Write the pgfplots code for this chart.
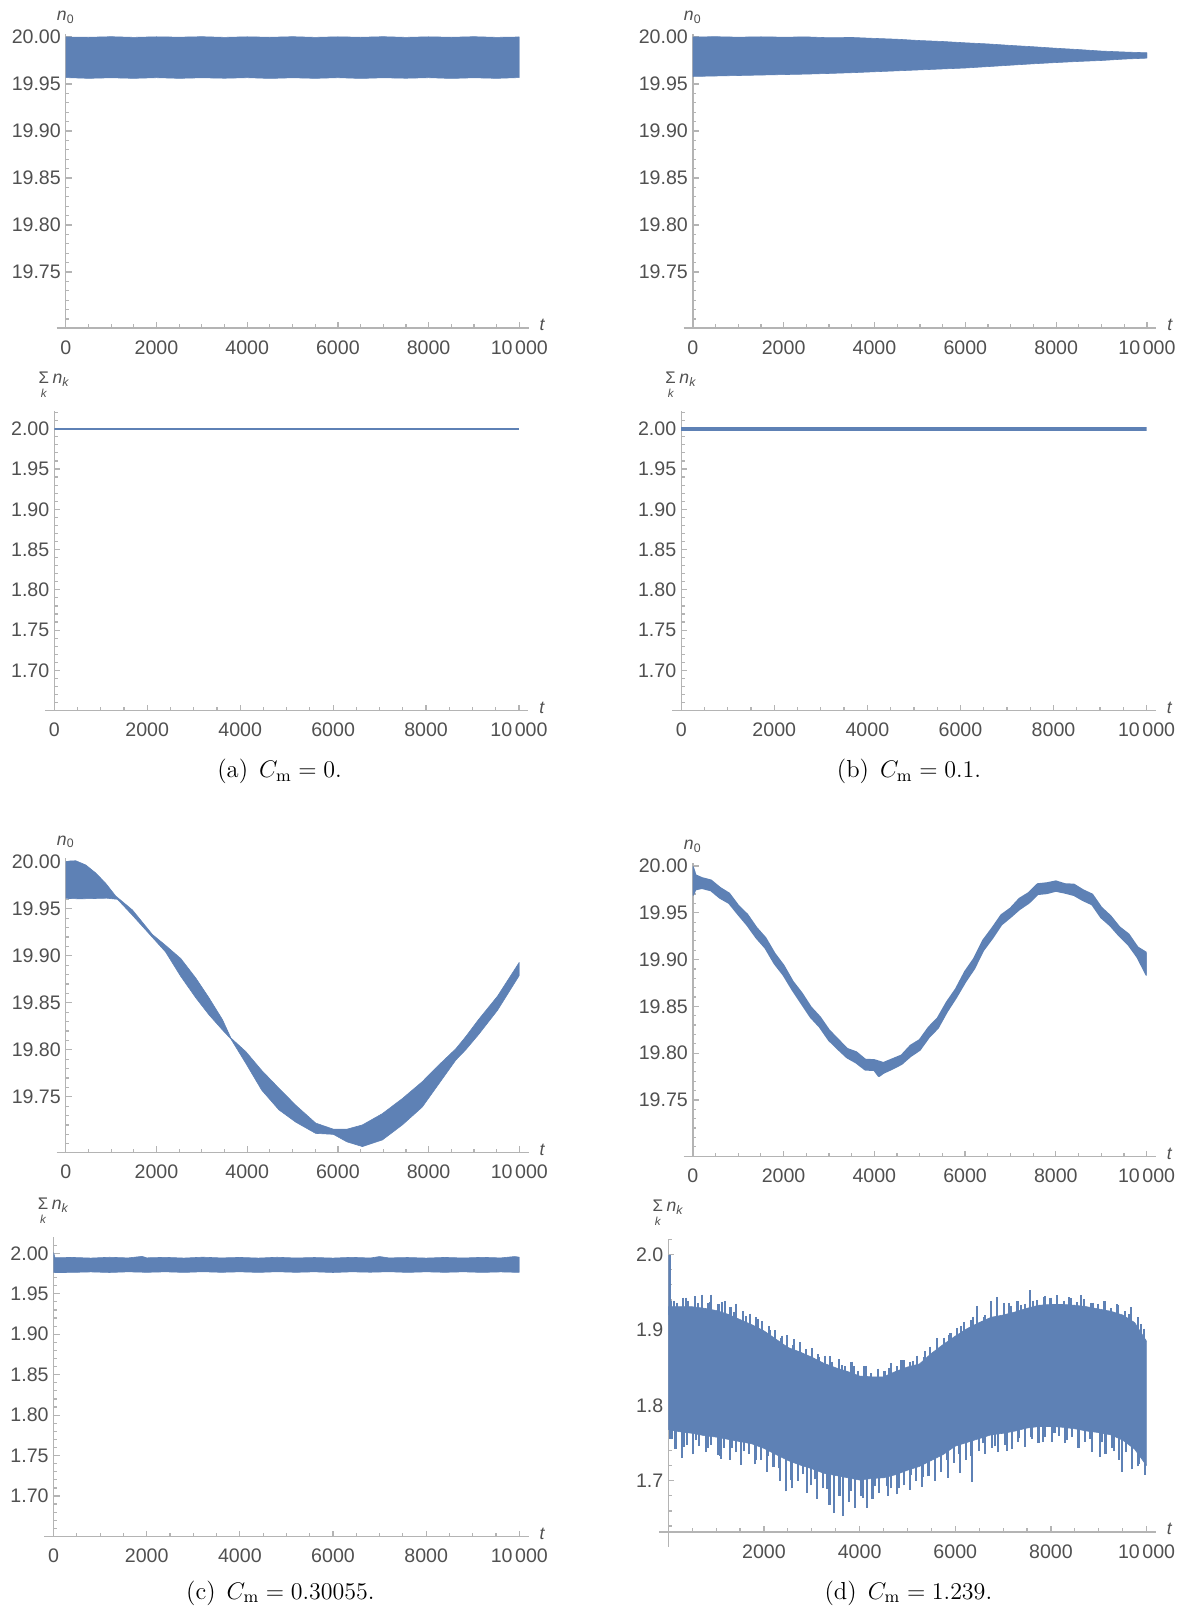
\documentclass[border=0pt]{standalone}
\usepackage{pgfplots}
\pgfplotsset{compat=1.18}
\usepackage{fontspec}
\newfontfamily\mma{Liberation Sans}
\definecolor{mblue}{HTML}{5E81B5}
\definecolor{axgray}{HTML}{B4B4B4}
\definecolor{labgray}{HTML}{505050}
\newcommand\ticklabfont{\mma\fontsize{9.8}{10}\selectfont}
\newcommand\axlabfont{\mma\fontsize{8.8}{9}\selectfont}
\newcommand\capfont{\fontsize{12.3}{14}\selectfont}
\newcommand\sumk{{\setbox0\hbox{\fontsize{8.4}{9}\selectfont Σ}\copy0\kern-\wd0\hbox to \wd0{\hss\raisebox{-7pt}{\fontsize{5.8}{6}\selectfont\itshape k}\hss}}}
\pgfplotsset{
  mma/.style={
    scale only axis, anchor=south west,
    axis x line=bottom, axis y line=left,
    every outer x axis line/.append style={-},
    every outer y axis line/.append style={-},
    axis line style={-, draw=axgray, line width=0.7pt},
    x axis line style={shorten <=-4.6pt, shorten >=-4.6pt},
    tick align=inside,
    major tick length=3pt, minor tick length=1.8pt,
    tick style={draw=axgray, line width=0.6pt},
    scaled x ticks=false, scaled y ticks=false,
    xmin=0, xmax=10000,
    xtick={0,2000,4000,6000,8000,10000},
    xticklabels={0,2000,4000,6000,8000,10\kern0.13em000},
    minor xtick={500,1000,...,9500},
    xticklabel style={font=\ticklabfont, text=labgray, inner sep=0pt, anchor=north, yshift=-6pt},
    yticklabel style={font=\ticklabfont, text=labgray, inner sep=0pt, anchor=east, xshift=-2.3pt},
    xlabel={\textit{t}},
    every axis x label/.style={at={(rel axis cs:1,0)}, anchor=base west, xshift=6.6pt, yshift=-1.5pt, font=\axlabfont, text=labgray},
    every axis y label/.style={at={(rel axis cs:0,1)}, anchor=base, font=\axlabfont, text=labgray},
  },
  ntop/.style={mma, ymax=20.0035,
    ytick={19.75,19.80,19.85,19.90,19.95,20.00},
    yticklabels={19.75,19.80,19.85,19.90,19.95,20.00},
    minor ytick={19.70,19.71,...,20.00},
    ylabel={\textit{n}\textsubscript{0}},
    ylabel style={yshift=6.5pt}},
  nbot/.style={mma,
    ytick={1.70,1.75,1.80,1.85,1.90,1.95,2.00},
    yticklabels={1.70,1.75,1.80,1.85,1.90,1.95,2.00},
    minor ytick={1.66,1.67,...,2.02},
    ylabel={\sumk\kern1.8pt\textit{n}\textsubscript{\textit{k}}},
    ylabel style={yshift=13.7pt}},
  band/.style={fill=mblue, draw=mblue, line width=0.3pt, line join=round},
  spikes/.style={draw=none, mark=none, forget plot},
  upspk/.style={spikes, error bars/.cd, y dir=minus, y fixed=0.08, error mark=none,
    error bar style={draw=mblue, line width=1.05pt}},
  dnspk/.style={spikes, error bars/.cd, y dir=plus, y fixed=0.08, error mark=none,
    error bar style={draw=mblue, line width=1.05pt}},
}
\begin{document}
\begin{tikzpicture}
\useasboundingbox (0,0) rectangle (593.5pt,804pt);

% ---------- (a) top
\begin{axis}[ntop, at={(32.9pt,640pt)}, width=226.75pt, height=147.15pt, ymin=19.6904]
\addplot[band] coordinates {(0,20.0000) (500,19.9997) (1000,20.0003) (1500,19.9996) (2000,20.0002) (2500,19.9998) (3000,20.0003) (3500,19.9996) (4000,20.0002) (4500,19.9997) (5000,20.0003) (5500,19.9996) (6000,20.0002) (6500,19.9997) (7000,20.0003) (7500,19.9996) (8000,20.0002) (8500,19.9997) (9000,20.0003) (9500,19.9996) (10000,20.0000)
(10000,19.9568) (9500,19.9560) (9000,19.9566) (8500,19.9559) (8000,19.9567) (7500,19.9561) (7000,19.9566) (6500,19.9559) (6000,19.9567) (5500,19.9560) (5000,19.9566) (4500,19.9559) (4000,19.9567) (3500,19.9561) (3000,19.9566) (2500,19.9560) (2000,19.9567) (1500,19.9560) (1000,19.9566) (500,19.9560) (0,19.9568)} -- cycle;
\end{axis}

% ---------- (a) bottom
\begin{axis}[nbot, at={(27.15pt,448.65pt)}, width=232.35pt, height=149.65pt, ymin=1.650, ymax=2.0215]
\addplot[mblue, line width=0.8pt] coordinates {(0,2.000) (10000,2.000)};
\end{axis}
\node[anchor=base, font=\capfont] at (139.8pt,415.25pt) {(a)\hspace{0.45em}$C_{\mathrm{m}}=0$.};

% ---------- (b) top
\begin{axis}[ntop, at={(346.4pt,640pt)}, width=227.1pt, height=147.15pt, ymin=19.6904]
\addplot[band] coordinates {(0,20.0000) (500,20.0003) (1000,19.9998) (1500,20.0002) (2000,19.9998) (2500,20.0001) (3000,19.9992) (3500,19.9995) (4000,19.9985) (4500,19.9976) (5000,19.9962) (5500,19.9952) (6000,19.9938) (6500,19.9926) (7000,19.9910) (7500,19.9896) (8000,19.9880) (8500,19.9866) (9000,19.9850) (9500,19.9840) (10000,19.9832)
(10000,19.9775) (9500,19.9765) (9000,19.9750) (8500,19.9740) (8000,19.9728) (7500,19.9715) (7000,19.9700) (6500,19.9685) (6000,19.9670) (5500,19.9660) (5000,19.9650) (4500,19.9640) (4000,19.9630) (3500,19.9620) (3000,19.9612) (2500,19.9605) (2000,19.9600) (1500,19.9595) (1000,19.9590) (500,19.9585) (0,19.9580)} -- cycle;
\end{axis}

% ---------- (b) bottom
\begin{axis}[nbot, at={(340.6pt,448.65pt)}, width=232.7pt, height=149.65pt, ymin=1.650, ymax=2.0215]
\addplot[mblue, line width=1.8pt] coordinates {(0,2.000) (10000,2.000)};
\end{axis}
\node[anchor=base, font=\capfont] at (454.5pt,415.25pt) {(b)\hspace{0.45em}$C_{\mathrm{m}}=0.1$.};

% ---------- (c) top
\begin{axis}[ntop, at={(32.9pt,227.85pt)}, width=226.75pt, height=146.95pt, ymin=19.6909]
\addplot[band] coordinates {(0,20.000) (100,20.0008) (220,20.001) (440,19.9965) (660,19.988) (880,19.977) (1100,19.9635) (1470,19.9486) (1910,19.9225) (2200,19.911) (2535,19.897) (2870,19.876) (3160,19.855) (3455,19.832) (3640,19.8125) (3970,19.798) (4320,19.778) (4700,19.759) (5070,19.741) (5510,19.722) (5900,19.7155) (6200,19.7155) (6540,19.720) (6980,19.732) (7420,19.748) (7860,19.766) (8230,19.784) (8600,19.801) (8820,19.814) (9100,19.832) (9520,19.857) (10000,19.893)
(10000,19.879) (9520,19.842) (9100,19.816) (8820,19.800) (8600,19.789) (8230,19.764) (7860,19.739) (7420,19.720) (6980,19.704) (6540,19.697) (6200,19.702) (5900,19.710) (5510,19.711) (5070,19.723) (4700,19.736) (4320,19.757) (3970,19.7855) (3640,19.8115) (3455,19.821) (3160,19.837) (2870,19.855) (2535,19.878) (2200,19.904) (1910,19.9195) (1470,19.943) (1140,19.960) (900,19.9612) (600,19.9608) (300,19.9605) (0,19.961)} -- cycle;
\end{axis}

% ---------- (c) bottom
\begin{axis}[nbot, at={(26.8pt,35.65pt)}, width=232.85pt, height=149.7pt, ymin=1.6497, ymax=2.0198]
\addplot[band] coordinates {(0,2.0010) (30,1.9945) (400,1.9949) (800,1.9941) (1200,1.9951) (1600,1.9943) (1900,1.9962) (2000,1.9944) (2400,1.9950) (2800,1.9941) (3200,1.9952) (3600,1.9943) (4000,1.9949) (4400,1.9941) (4800,1.9951) (5200,1.9942) (5600,1.9948) (6000,1.9941) (6400,1.9950) (6800,1.9942) (7000,1.9960) (7200,1.9943) (7600,1.9948) (8000,1.9941) (8400,1.9949) (8800,1.9942) (9200,1.9950) (9600,1.9943) (9900,1.9960) (10000,1.9952)
(10000,1.9764) (9600,1.9770) (9200,1.9764) (8800,1.9771) (8400,1.9765) (8000,1.9771) (7600,1.9764) (7200,1.9772) (6800,1.9766) (6400,1.9771) (6000,1.9763) (5600,1.9771) (5200,1.9765) (4800,1.9772) (4400,1.9764) (4000,1.9771) (3600,1.9765) (3200,1.9772) (2800,1.9764) (2400,1.9771) (2000,1.9765) (1600,1.9771) (1200,1.9763) (800,1.9770) (400,1.9764) (0,1.9762)} -- cycle;
\end{axis}
\node[anchor=base, font=\capfont] at (140.2pt,4.5pt) {(c)\hspace{0.45em}$C_{\mathrm{m}}=0.30055$.};

% ---------- (d) top
\begin{axis}[ntop, at={(346.4pt,225.65pt)}, width=226.9pt, height=147pt, ymin=19.6894]
\addplot[band, line width=1.0pt] coordinates {(0,19.999) (60,19.990) (200,19.987) (400,19.9845) (600,19.9765) (800,19.9705) (1000,19.9575) (1200,19.948) (1400,19.934) (1600,19.923) (1800,19.9065) (2000,19.8935) (2200,19.8765) (2400,19.864) (2600,19.849) (2800,19.8385) (3000,19.8245) (3200,19.8145) (3400,19.8045) (3600,19.801) (3800,19.793) (4000,19.7925) (4200,19.7895) (4400,19.7935) (4600,19.7975) (4800,19.808) (5000,19.814) (5200,19.8275) (5400,19.8375) (5600,19.8545) (5800,19.8685) (6000,19.887) (6200,19.901) (6400,19.9205) (6600,19.9335) (6800,19.9475) (7000,19.9545) (7200,19.965) (7400,19.971) (7600,19.9805) (7800,19.9815) (8000,19.9835) (8200,19.9805) (8400,19.980) (8600,19.974) (8800,19.9695) (9000,19.9555) (9200,19.9465) (9400,19.9345) (9600,19.927) (9800,19.913) (10000,19.907)
(10000,19.8835) (9800,19.9025) (9600,19.916) (9400,19.9255) (9200,19.9365) (9000,19.945) (8800,19.959) (8600,19.9635) (8400,19.969) (8200,19.9715) (8000,19.9735) (7800,19.971) (7600,19.970) (7400,19.9605) (7200,19.954) (7000,19.9455) (6800,19.9375) (6600,19.923) (6400,19.910) (6200,19.8905) (6000,19.876) (5800,19.8595) (5600,19.8445) (5400,19.827) (5200,19.817) (5000,19.8035) (4800,19.797) (4600,19.7885) (4400,19.7835) (4200,19.779) (4100,19.7755) (4000,19.782) (3800,19.7825) (3600,19.790) (3400,19.7955) (3200,19.8045) (3000,19.814) (2800,19.828) (2600,19.8385) (2400,19.853) (2200,19.8675) (2000,19.8835) (1800,19.896) (1600,19.9125) (1400,19.9235) (1200,19.937) (1000,19.9485) (800,19.9605) (600,19.966) (400,19.974) (200,19.9765) (60,19.975) (0,19.969)} -- cycle;
\end{axis}

% ---------- (d) bottom
\begin{axis}[mma, at={(334.15pt,38pt)}, width=239.15pt, height=146.15pt, ymin=1.632, ymax=2.02,
    xtick={2000,4000,6000,8000,10000},
    xticklabels={2000,4000,6000,8000,10\kern0.13em000},
    ytick={1.7,1.8,1.9,2.0}, yticklabels={1.7,1.8,1.9,2.0},
    minor ytick={1.64,1.66,...,2.02},
    y axis line style={shorten <=-7.35pt},
    ylabel={\sumk\kern1.8pt\textit{n}\textsubscript{\textit{k}}},
    ylabel style={yshift=13.9pt}]
\addplot[band] coordinates {(0,1.931) (250,1.931) (500,1.931) (750,1.929) (1000,1.926) (1250,1.921) (1500,1.914) (1750,1.907) (2000,1.899) (2250,1.888) (2500,1.877) (2750,1.871) (3000,1.864) (3250,1.856) (3500,1.850) (3750,1.845) (4000,1.839) (4250,1.838) (4500,1.838) (4750,1.845) (5000,1.851) (5250,1.855) (5500,1.869) (5750,1.881) (6000,1.892) (6250,1.902) (6500,1.910) (6750,1.917) (7000,1.920) (7250,1.924) (7500,1.929) (7750,1.933) (8000,1.934) (8250,1.934) (8500,1.933) (8750,1.931) (9000,1.928) (9250,1.925) (9500,1.920) (9750,1.910) (10000,1.885)
(10000,1.720) (9750,1.742) (9500,1.754) (9250,1.761) (9000,1.764) (8750,1.766) (8500,1.769) (8250,1.771) (8000,1.772) (7750,1.772) (7500,1.770) (7250,1.766) (7000,1.763) (6750,1.761) (6500,1.756) (6250,1.751) (6000,1.746) (5750,1.735) (5500,1.727) (5250,1.719) (5000,1.714) (4750,1.708) (4500,1.704) (4250,1.703) (4000,1.701) (3750,1.704) (3500,1.707) (3250,1.710) (3000,1.716) (2750,1.721) (2500,1.727) (2250,1.735) (2000,1.743) (1750,1.749) (1500,1.752) (1250,1.755) (1000,1.758) (750,1.760) (500,1.763) (250,1.765) (0,1.768)} -- cycle;
% upper spikes
\addplot[upspk] coordinates {
(25,2.000) (60,1.938) (180,1.936) (310,1.943) (420,1.938) (560,1.945) (700,1.947) (830,1.936) (900,1.947) (1050,1.934) (1180,1.938) (1300,1.930) (1420,1.935) (1560,1.925) (1700,1.922) (1830,1.917) (1960,1.912) (2100,1.905) (2230,1.900) (2350,1.889) (2480,1.893) (2610,1.880) (2750,1.884) (2880,1.872) (3000,1.876) (3140,1.864) (3280,1.866) (3420,1.858) (3560,1.861) (3700,1.852) (3830,1.858) (3960,1.846) (4100,1.852) (4230,1.843) (4380,1.849) (4520,1.846) (4650,1.856) (4790,1.852) (4930,1.860) (5060,1.858) (5200,1.866) (5340,1.864) (5480,1.878) (5620,1.882) (5760,1.890) (5900,1.896) (6040,1.903) (6180,1.911) (6320,1.914) (6460,1.932) (6600,1.918) (6740,1.938) (6880,1.944) (7020,1.936) (7160,1.932) (7300,1.938) (7450,1.935) (7560,1.953) (7700,1.940) (7850,1.944) (7990,1.943) (8130,1.946) (8270,1.939) (8410,1.942) (8550,1.937) (8700,1.941) (8840,1.936) (8980,1.935) (9120,1.938) (9260,1.929) (9400,1.933) (9540,1.925) (9680,1.930) (9820,1.917) (9950,1.902)};
\addplot[upspk] coordinates {
(125,1.939) (375,1.943) (625,1.936) (875,1.9375) (1125,1.9375) (1375,1.9245) (1625,1.9185) (1875,1.915) (2125,1.8995) (2375,1.8925) (2625,1.888) (2875,1.8745) (3125,1.868) (3375,1.865) (3625,1.8535) (3875,1.852) (4125,1.8525) (4375,1.845) (4625,1.8495) (4875,1.860) (5125,1.859) (5375,1.872) (5625,1.889) (5875,1.8935) (6125,1.905) (6375,1.918) (6625,1.9195) (6875,1.9285) (7125,1.936) (7375,1.9335) (7625,1.939) (7875,1.9455) (8125,1.940) (8375,1.9435) (8625,1.946) (8875,1.9365) (9125,1.9345) (9375,1.9345) (9625,1.921) (9875,1.9075)};
% lower spikes
\addplot[dnspk] coordinates {
(30,1.756) (150,1.742) (280,1.730) (400,1.748) (520,1.735) (650,1.746) (780,1.738) (900,1.748) (1030,1.734) (1100,1.729) (1160,1.744) (1290,1.728) (1420,1.738) (1515,1.721) (1680,1.736) (1810,1.722) (1940,1.728) (2070,1.712) (2200,1.718) (2330,1.700) (2470,1.686) (2590,1.690) (2720,1.700) (2900,1.684) (2980,1.694) (3110,1.676) (3240,1.690) (3370,1.668) (3460,1.657) (3580,1.680) (3650,1.653) (3780,1.672) (3900,1.664) (4020,1.680) (4160,1.664) (4270,1.676) (4400,1.684) (4590,1.680) (4660,1.690) (4790,1.682) (4920,1.694) (5050,1.688) (5180,1.700) (5310,1.692) (5440,1.706) (5570,1.700) (5700,1.712) (5840,1.704) (5970,1.724) (6100,1.710) (6230,1.728) (6350,1.699) (6500,1.740) (6630,1.736) (6770,1.744) (6900,1.738) (7040,1.748) (7180,1.742) (7320,1.752) (7460,1.745) (7600,1.756) (7740,1.750) (7880,1.758) (8020,1.752) (8160,1.760) (8300,1.750) (8440,1.758) (8580,1.748) (8720,1.752) (8860,1.738) (9020,1.732) (9140,1.736) (9280,1.744) (9420,1.728) (9490,1.712) (9560,1.738) (9700,1.715) (9830,1.722) (9960,1.708)};
\addplot[dnspk] coordinates {
(75,1.755) (325,1.7445) (575,1.7545) (825,1.7435) (1075,1.733) (1325,1.744) (1575,1.739) (1825,1.727) (2075,1.7325) (2325,1.7165) (2575,1.701) (2825,1.7095) (3075,1.702) (3325,1.689) (3575,1.698) (3825,1.687) (4075,1.6775) (4325,1.693) (4575,1.693) (4825,1.690) (5075,1.7075) (5325,1.705) (5575,1.705) (5825,1.728) (6075,1.7355) (6325,1.7325) (6575,1.7495) (6825,1.7455) (7075,1.740) (7325,1.757) (7575,1.7585) (7825,1.752) (8075,1.764) (8325,1.7545) (8575,1.744) (8825,1.7555) (9075,1.751) (9325,1.739) (9575,1.7425) (9825,1.719)};
\end{axis}
\node[anchor=base, font=\capfont] at (454.2pt,4.5pt) {(d)\hspace{0.45em}$C_{\mathrm{m}}=1.239$.};
\end{tikzpicture}
\end{document}
